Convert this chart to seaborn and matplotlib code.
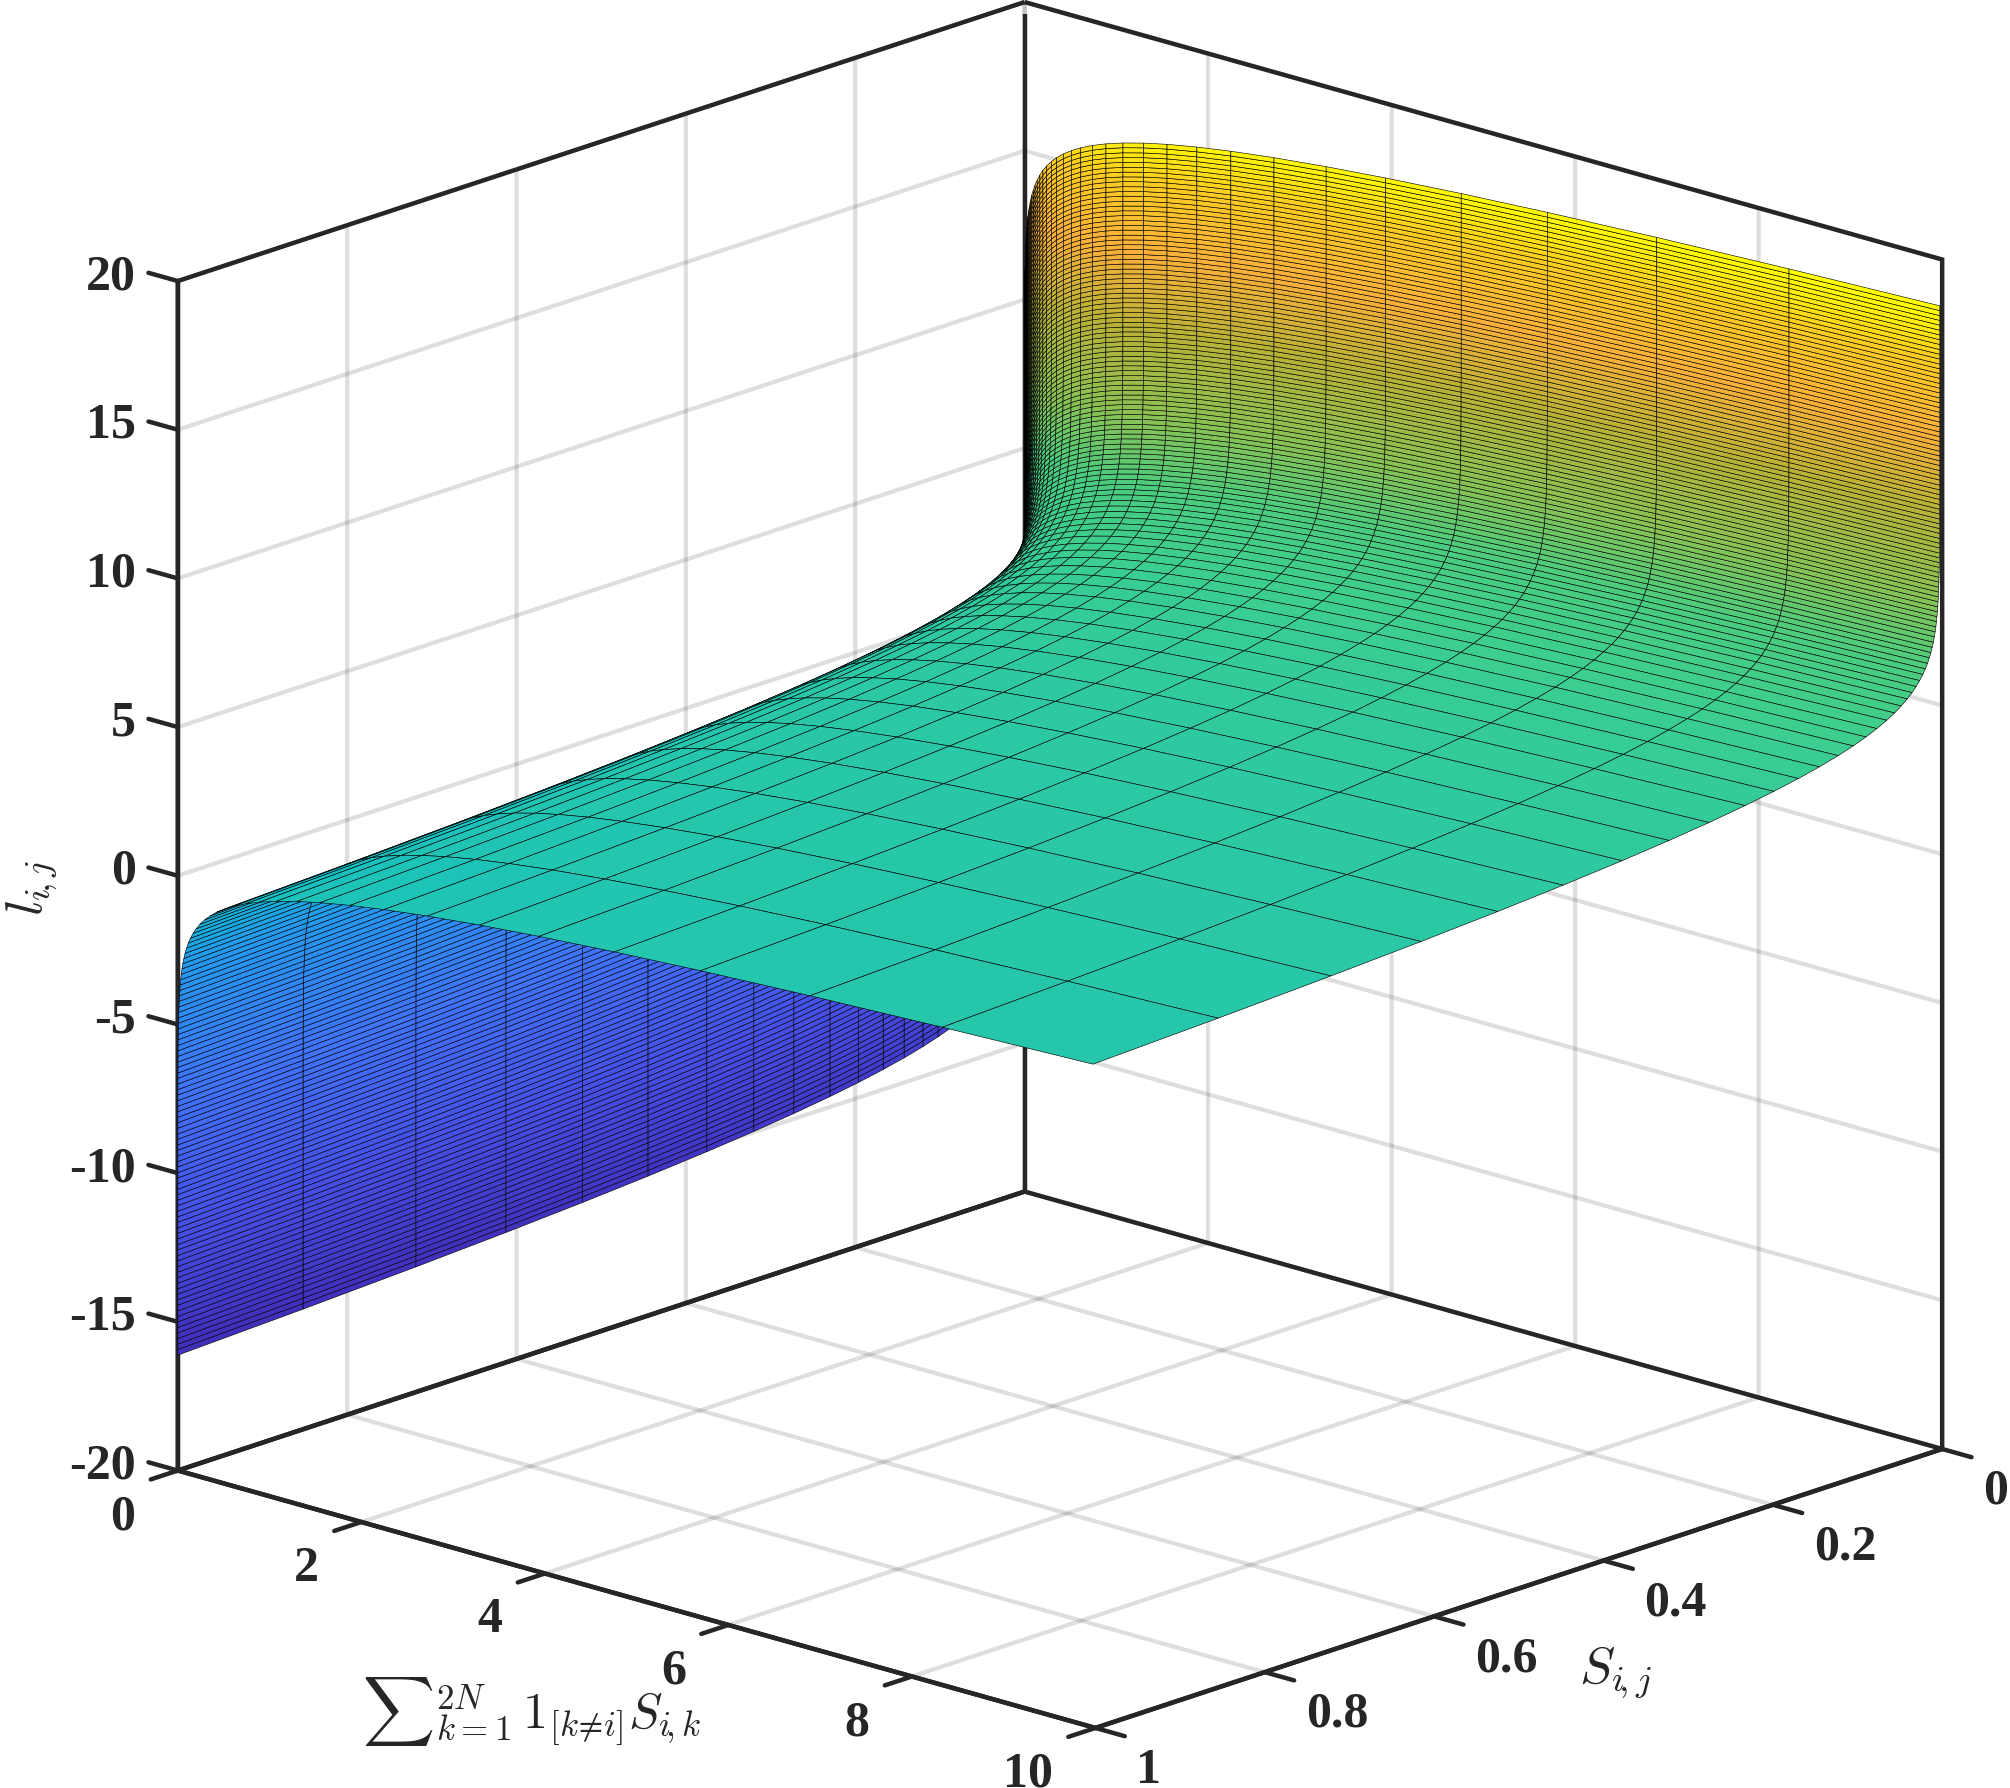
import numpy as np
import matplotlib
matplotlib.use("Agg")
import matplotlib.pyplot as plt
from matplotlib.colors import LinearSegmentedColormap, Normalize
from matplotlib.transforms import ScaledTranslation
import seaborn as sns

# Level contributed by S_ij along the S axis (read along the T = 1 line, first value at the smallest S)
level_by_s = [16.12,15.96,15.79,15.63,15.47,15.30,15.14,14.98,14.82,14.65,
              14.49,14.33,14.16,14.00,13.84,13.68,13.51,13.35,13.19,13.02,
              12.86,12.70,12.54,12.37,12.21,12.05,11.88,11.72,11.56,11.40,
              11.23,11.07,10.91,10.75,10.58,10.42,10.26,10.09,9.93,9.77,
              9.61,9.44,9.28,9.12,8.95,8.79,8.63,8.47,8.30,8.14,
              7.98,7.81,7.65,7.49,7.33,7.16,7.00,6.84,6.67,6.51,
              6.35,6.19,6.02,5.86,5.70,5.54,5.37,5.21,5.05,4.88,
              4.72,4.56,4.40,4.23,4.07,3.91,3.74,3.58,3.42,3.26,
              3.09,2.93,2.77,2.60,2.44,2.28,2.12,1.95,1.79,1.63,
              1.47,1.30,1.14,0.98,0.81,0.65,0.49,0.33,0.16,0.00]
# Level along the sum axis (read along the S = 1 edge, first value at the smallest sum)
level_by_t = [-16.12,-15.93,-15.75,-15.56,-15.37,-15.19,-15.00,-14.82,-14.63,-14.44,
              -14.26,-14.07,-13.89,-13.70,-13.51,-13.33,-13.14,-12.95,-12.77,-12.58,
              -12.40,-12.21,-12.02,-11.84,-11.65,-11.47,-11.28,-11.09,-10.91,-10.72,
              -10.54,-10.35,-10.16,-9.98,-9.79,-9.61,-9.42,-9.23,-9.05,-8.86,
              -8.68,-8.49,-8.30,-8.12,-7.93,-7.75,-7.56,-7.37,-7.19,-7.00,
              -6.81,-6.63,-6.44,-6.26,-6.07,-5.88,-5.70,-5.51,-5.33,-5.14,
              -4.95,-4.77,-4.58,-4.40,-4.21,-4.02,-3.84,-3.65,-3.47,-3.28,
              -3.09,-2.91,-2.72,-2.54,-2.35,-2.16,-1.98,-1.79,-1.61,-1.42,
              -1.23,-1.05,-0.86,-0.67,-0.49,-0.30,-0.12,0.07,0.26,0.44,
              0.63,0.81,1.00,1.19,1.37,1.56,1.74,1.93,2.12,2.30]

s_ticks = [0, 0.2, 0.4, 0.6, 0.8, 1]
s_labels = ["0", "0.2", "0.4", "0.6", "0.8", "1"]
t_ticks = [0, 2, 4, 6, 8, 10]
t_labels = ["0", "2", "4", "6", "8", "10"]
z_ticks = [-20, -15, -10, -5, 0, 5, 10, 15, 20]
z_labels = ["-20", "-15", "-10", "-5", "0", "5", "10", "15", "20"]

color_levels = [-16.1, -11.7, -7.4, -3.1, -0.5, 0.7, 3.0, 4.8, 7.0, 10.0, 12.6, 15.0, 16.8]
color_values = ["#402EBA", "#4650E6", "#4072FA", "#2498F0", "#0FBCCC", "#25C6AC",
                "#3CCE8E", "#4ACC7E", "#88C254", "#B8B236", "#FAB03A", "#FACC22", "#FFFF00"]

INK = "#262626"
sns.set_theme(style="white")
plt.rcParams["mathtext.fontset"] = "cm"
plt.rcParams["font.family"] = ["Liberation Serif", "DejaVu Serif"]

norm = Normalize(color_levels[0], color_levels[-1])
cmap = LinearSegmentedColormap.from_list(
    "surface", [(float(norm(v)), c) for v, c in zip(color_levels, color_values)])

lev_s = np.array(level_by_s)
lev_t = np.array(level_by_t)
X, Y = np.meshgrid(np.exp(-lev_s), np.exp(lev_t))
Z = np.add.outer(lev_t, lev_s)
# the colouring follows the height, but barely changes with the sum once it exceeds 1
C = np.add.outer(np.where(lev_t > 0, 0.3 * lev_t, lev_t), lev_s)

fig = plt.figure(figsize=(20.10, 17.88), dpi=100, facecolor="white")
W = 1749.5
ax = fig.add_axes([161.6 / 2010, 24.6 / 1788, W / 2010, W / 1788], projection="3d")
ax.set_proj_type("ortho")
ax.view_init(elev=17.7, azim=42.7)
ax.set_box_aspect((1, 1, 1), zoom=1.2)
ax.patch.set_alpha(0)

# back corner of the box, behind the surface
ax.plot([s_ticks[0], s_ticks[0]], [t_ticks[0], t_ticks[0]], [z_ticks[0], z_ticks[-1]],
        color=INK, linewidth=3.2, solid_capstyle="butt", zorder=0)

surf = ax.plot_surface(X, Y, Z, rstride=1, cstride=1, facecolors=cmap(norm(C)), shade=False,
                       edgecolor="black", linewidth=0.42, antialiased=True)
surf.set_clip_on(False)

ax.set_xlim(0, 1)
ax.set_ylim(0, 10)
ax.set_zlim(-20, 20)
ax.set_xticks(s_ticks, s_labels)
ax.set_yticks(t_ticks, t_labels)
ax.set_zticks(z_ticks, z_labels)

ax.zaxis._get_tickdir = lambda pos: 1

for axis in (ax.xaxis, ax.yaxis, ax.zaxis):
    axis.pane.set_alpha(None)
    axis.pane.set_facecolor((1, 1, 1, 0))
    axis.pane.set_edgecolor(INK)
    axis.pane.set_linewidth(3.2)
    axis.line.set_color(INK)
    axis.line.set_linewidth(3.2)
    axis._axinfo["grid"].update(color=(0.15, 0.15, 0.15, 0.15), linewidth=3.0)
    axis._axinfo["tick"].update(inward_factor=0.4, outward_factor=0.0,
                                color=INK, linewidth={True: 3.2, False: 1.0})
ax.zaxis._axinfo["tick"].update(inward_factor=0.0, outward_factor=0.4)

ax.tick_params(axis="x", pad=10.4, colors=INK, width=3.2)
ax.tick_params(axis="y", pad=13.0, colors=INK, width=3.2)
ax.tick_params(axis="z", pad=7.5, colors=INK, width=3.2)

label_style = [(ax.xaxis, "left", 11.0, -1.5),
               (ax.yaxis, "right", -11.0, 0.0),
               (ax.zaxis, "right", 0.0, 3.2)]
for axis, ha, dx, dy in label_style:
    shift = ax.transData + ScaledTranslation(dx / 72, dy / 72, fig.dpi_scale_trans)
    for tick in axis.get_major_ticks():
        lab = tick.label1
        lab.set_fontsize(36)
        lab.set_fontweight("bold")
        lab.set_color(INK)
        lab.set_ha(ha)
        lab.set_va("center")
        lab.set_transform(shift)
        # mplot3d re-assigns transData to tick labels at draw time; keep the offset
        lab.set_transform = lambda t: None

fig.text(32 / 2010, 1 - 888 / 1788, r"$l_{i\!,j}$", rotation=90, fontsize=38, color=INK,
         ha="center", va="center")
fig.text(1615 / 2010, 1 - 1673 / 1788, r"$S_{i\!,j}$", fontsize=38, color=INK,
         ha="center", va="center")
fig.text(532 / 2010, 1 - 1711 / 1788, r"$\sum{}_{k=1}^{2N}\,1_{[k\!\neq\!i]}S_{i\!,k}$",
         fontsize=36, color=INK, ha="center", va="center")

fig.savefig("out.png", dpi=100)
